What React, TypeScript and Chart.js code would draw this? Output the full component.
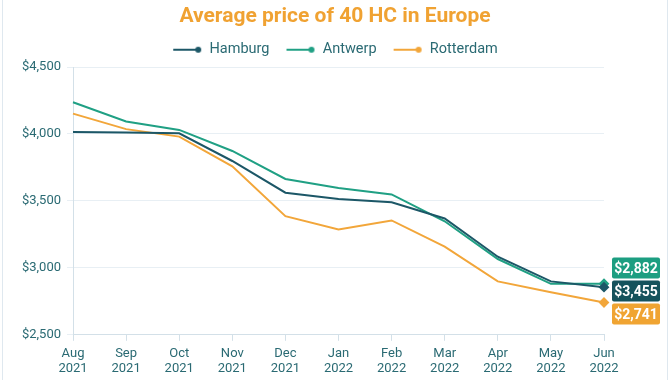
import React, { useEffect, useRef } from "react";
import { Chart, registerables } from "chart.js";

Chart.register(...registerables);

const months: string[][] = [
  ["Aug", "2021"], ["Sep", "2021"], ["Oct", "2021"], ["Nov", "2021"], ["Dec", "2021"],
  ["Jan", "2022"], ["Feb", "2022"], ["Mar", "2022"], ["Apr", "2022"], ["May", "2022"], ["Jun", "2022"],
];
const hamburg = [4015, 4010, 4005, 3798, 3561, 3515, 3490, 3369, 3083, 2899, 2856];
const antwerp = [4237, 4093, 4030, 3873, 3664, 3596, 3548, 3348, 3066, 2881, 2882];
const rotterdam = [4152, 4036, 3980, 3758, 3386, 3286, 3354, 3159, 2899, 2818, 2741];
const seriesNames = ["Hamburg", "Antwerp", "Rotterdam"];
const seriesColors = ["#1c5767", "#20a084", "#f2a63a"];
// end labels shown in the boxes at the right (top to bottom)
const endLabelOrder = [1, 0, 2];
const endLabelTexts = ["$2,882", "$3,455", "$2,741"];
const endLabelColors = ["#1c9e81", "#15525c", "#f0a432"];
const yMin = 2500;
const yMax = 4500;
const yStep = 500;

const textColor = "#2a6a73";

function legendImage(color: string): HTMLCanvasElement {
  const c = document.createElement("canvas");
  c.width = 30;
  c.height = 8;
  const ctx = c.getContext("2d")!;
  ctx.strokeStyle = color;
  ctx.lineWidth = 2;
  ctx.beginPath();
  ctx.moveTo(1, 4);
  ctx.lineTo(26, 4);
  ctx.stroke();
  ctx.fillStyle = color;
  ctx.beginPath();
  ctx.arc(26, 4, 3, 0, Math.PI * 2);
  ctx.fill();
  return c;
}

const frame = {
  id: "frame",
  beforeDraw(chart: any) {
    const { ctx, width, height } = chart;
    ctx.save();
    ctx.fillStyle = "#ffffff";
    ctx.fillRect(0, 0, width, height);
    ctx.strokeStyle = "#dfe8ef";
    ctx.lineWidth = 1;
    ctx.beginPath();
    ctx.moveTo(2.5, 0);
    ctx.lineTo(2.5, height);
    ctx.moveTo(width - 2.5, 0);
    ctx.lineTo(width - 2.5, height);
    ctx.stroke();
    ctx.restore();
  },
};

const endLabels = {
  id: "endLabels",
  afterDatasetsDraw(chart: any) {
    const { ctx, chartArea } = chart;
    const ys: number[] = [];
    chart.data.datasets.forEach((_: any, i: number) => {
      const meta = chart.getDatasetMeta(i);
      const pt = meta.data[meta.data.length - 1];
      ys.push(pt.y);
    });
    const mean = ys.reduce((a, b) => a + b, 0) / ys.length;
    const h = 21;
    const gap = 2;
    const w = 48;
    const total = endLabelOrder.length * h + (endLabelOrder.length - 1) * gap;
    let top = mean - total / 2;
    const x = chartArea.right + 8;
    ctx.save();
    ctx.font = "bold 14px Roboto";
    ctx.textAlign = "center";
    ctx.textBaseline = "middle";
    endLabelOrder.forEach((_, k) => {
      ctx.fillStyle = endLabelColors[k];
      ctx.beginPath();
      (ctx as any).roundRect(x, top, w, h, 2);
      ctx.fill();
      ctx.fillStyle = "#ffffff";
      ctx.fillText(endLabelTexts[k], x + w / 2, top + h / 2 + 1);
      top += h + gap;
    });
    ctx.restore();
  },
};

export default function App() {
  const ref = useRef<HTMLCanvasElement>(null);
  useEffect(() => {
    document.body.style.margin = "0";
    Chart.defaults.font.family = "Roboto";
    const series = [hamburg, antwerp, rotterdam];
    const n = months.length;
    const chart = new Chart(ref.current!, {
      type: "line",
      data: {
        labels: months,
        datasets: series.map((d, i) => ({
          label: seriesNames[i],
          data: d,
          borderColor: seriesColors[i],
          backgroundColor: seriesColors[i],
          borderWidth: 2,
          tension: 0,
          pointStyle: "rectRot",
          pointRadius: d.map((_, j) => (j === n - 1 ? 4 : 0)),
          pointHoverRadius: 0,
          yAxisID: "y",
        })),
      },
      options: {
        animation: false,
        responsive: false,
        layout: { padding: { left: 0, right: 0, top: 0, bottom: -2 } },
        plugins: {
          title: {
            display: true,
            text: "Average price of 40 HC in Europe",
            color: "#f0a232",
            font: { size: 21, weight: "bold" },
            padding: { top: 3, bottom: -3 },
          },
          legend: {
            display: true,
            labels: {
              usePointStyle: true,
              pointStyleWidth: 30,
              padding: 16,
              color: textColor,
              font: { size: 14.5 },
              generateLabels: (c: any) =>
                Chart.defaults.plugins.legend.labels
                  .generateLabels(c)
                  .map((l: any, i: number) => ({ ...l, pointStyle: legendImage(seriesColors[i]) })),
            },
          },
          tooltip: { enabled: false },
        },
        scales: {
          x: {
            offset: false,
            grid: {
              drawOnChartArea: false,
              drawTicks: true,
              tickLength: 6,
              color: "#d3e0e8",
            },
            border: { color: "#d3e0e8" },
            ticks: { color: textColor, font: { size: 13 }, padding: 5, maxRotation: 0, autoSkip: false },
          },
          y: {
            min: yMin,
            max: yMax,
            grid: { color: "#e8eff4", tickLength: 6 },
            border: { color: "#d3e0e8" },
            afterFit: (s: any) => {
              s.width = 73;
              s.paddingTop = 67;
            },
            ticks: {
              stepSize: yStep,
              color: textColor,
              font: { size: 13 },
              padding: 6,
              callback: (v: any) => "$" + Number(v).toLocaleString("en-US"),
            },
          },
          yRight: {
            position: "right",
            display: true,
            min: yMin,
            max: yMax,
            grid: { display: false, drawTicks: false },
            border: { display: false },
            ticks: { display: false },
            afterFit: (s: any) => {
              s.width = 66;
            },
          },
        },
      },
      plugins: [frame, endLabels],
    });
    return () => chart.destroy();
  }, []);
  return <canvas ref={ref} width={670} height={380} style={{ display: "block" }} />;
}
